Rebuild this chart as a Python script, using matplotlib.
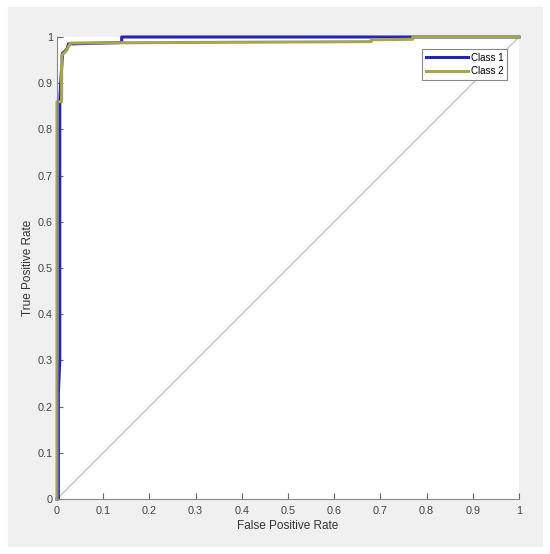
import numpy as np
import matplotlib.pyplot as plt

plt.rcParams['font.family'] = ['Liberation Sans', 'DejaVu Sans']

# ROC curves
fpr_c1 = [0, 0.003, 0.003, 0.006, 0.006, 0.008, 0.012, 0.018, 0.022, 0.025, 0.14, 0.14, 1.0]
tpr_c1 = [0, 0.0, 0.23, 0.30, 0.86, 0.90, 0.965, 0.97, 0.975, 0.985, 0.988, 1.0, 1.0]

fpr_c2 = [0, 0.0, 0.01, 0.01, 0.015, 0.02, 0.025, 0.03, 0.68, 0.68, 0.77, 0.77, 1.0]
tpr_c2 = [0, 0.86, 0.86, 0.96, 0.965, 0.97, 0.98, 0.987, 0.99, 0.994, 0.995, 1.0, 1.0]

labels = ["Class 1", "Class 2"]
ticks = np.round(np.arange(0, 1.01, 0.1), 1)
tick_labels = ["0"] + [f"{t:g}" for t in ticks[1:-1]] + ["1"]

fig = plt.figure(figsize=(5.5, 5.54), dpi=100, facecolor="white")
# grey matlab-style figure panel
fig.patches.append(plt.Rectangle((8 / 550, 1 - 546 / 554), 534 / 550, 539 / 554,
                                 transform=fig.transFigure, color="#f0f0f0", zorder=-5))
ax = fig.add_axes([57 / 550, 1 - 499 / 554, 462 / 550, 462 / 554])
ax.set_zorder(1)
ax.set_facecolor("white")

ax.plot([0, 1], [0, 1], color="#cccccc", lw=1.2)
ax.plot(fpr_c1, tpr_c1, color="#2424b8", lw=2.2, label=labels[0], clip_on=False)
ax.plot(fpr_c2, tpr_c2, color="#a6a64e", lw=2.2, label=labels[1], clip_on=False)

ax.set_xlim(0, 1)
ax.set_ylim(0, 1)
ax.set_xticks(ticks)
ax.set_xticklabels(tick_labels)
ax.set_yticks(ticks)
ax.set_yticklabels(tick_labels)
ax.tick_params(direction="in", length=4, width=0.8, colors="#666666",
               labelsize=7.8, labelcolor="#444444")
ax.tick_params(axis="x", pad=5)
ax.tick_params(axis="y", pad=3)
for s in ["top", "right"]:
    ax.spines[s].set_visible(False)
for s in ["left", "bottom"]:
    ax.spines[s].set_color("#888888")
    ax.spines[s].set_linewidth(0.8)

ax.set_xlabel("False Positive Rate", fontsize=8.5, color="#333333", labelpad=3)
ax.set_ylabel("True Positive Rate", fontsize=8.5, color="#333333", labelpad=3)

leg = ax.legend(loc="upper right", fontsize=7, fancybox=False, framealpha=1,
                edgecolor="#888888", handlelength=4.3, handletextpad=0.3,
                borderpad=0.4, labelspacing=0.35, bbox_to_anchor=(0.985, 0.985))
leg.get_frame().set_linewidth(0.8)

fig.savefig("out.png", dpi=100)
